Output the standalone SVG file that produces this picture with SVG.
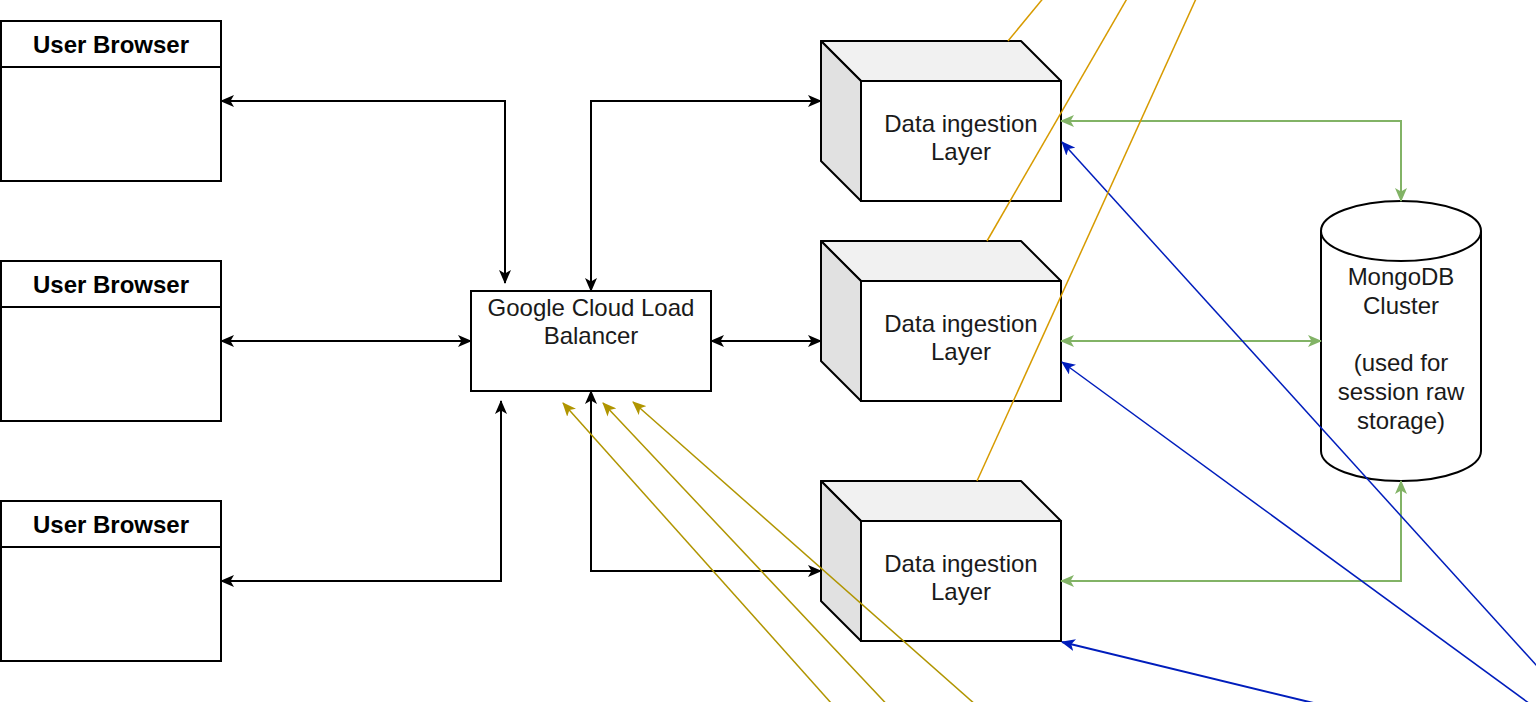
<svg xmlns="http://www.w3.org/2000/svg" width="1536" height="702" viewBox="0 0 1536 702">
<style>
.box{fill:#fff;stroke:#000;stroke-width:2}
.top{fill:#f1f1f1;stroke:#000;stroke-width:2;stroke-linejoin:round}
.side{fill:#e1e1e1;stroke:#000;stroke-width:2;stroke-linejoin:round}
text{font-family:"Liberation Sans",Arial,Helvetica,sans-serif;font-size:24px;fill:#1a1a1a;text-anchor:middle}
.b{font-weight:bold;fill:#000}
.k{fill:none;stroke:#000;stroke-width:2;marker-start:url(#ak);marker-end:url(#ak)}
.g{fill:none;stroke:#82b366;stroke-width:2;marker-start:url(#ag);marker-end:url(#ag)}
.bl{fill:none;stroke:#001DBC;stroke-width:1.5;marker-end:url(#ab)}
.gd{fill:none;stroke:#B09500;stroke-width:1.5;marker-end:url(#ad)}
.or{fill:none;stroke:#d79b00;stroke-width:1.5}
</style>
<defs>
<marker id="ak" viewBox="0 0 14 12" refX="13" refY="6" markerWidth="14" markerHeight="12" markerUnits="userSpaceOnUse" orient="auto-start-reverse"><path d="M0,0 L14,6 L0,12 L3.5,6 z" fill="#000"/></marker>
<marker id="ag" viewBox="0 0 14 12" refX="13" refY="6" markerWidth="14" markerHeight="12" markerUnits="userSpaceOnUse" orient="auto-start-reverse"><path d="M0,0 L14,6 L0,12 L3.5,6 z" fill="#82b366"/></marker>
<marker id="ab" viewBox="0 0 14 12" refX="13" refY="6" markerWidth="14" markerHeight="12" markerUnits="userSpaceOnUse" orient="auto"><path d="M0,0 L14,6 L0,12 L3.5,6 z" fill="#001DBC"/></marker>
<marker id="ad" viewBox="0 0 14 12" refX="13" refY="6" markerWidth="14" markerHeight="12" markerUnits="userSpaceOnUse" orient="auto"><path d="M0,0 L14,6 L0,12 L3.5,6 z" fill="#B09500"/></marker>
</defs>

<g id="browser1">
<rect class="box" x="1" y="21" width="220" height="160"/>
<line x1="1" y1="67" x2="221" y2="67" stroke="#000" stroke-width="2"/>
<text class="b" x="111" y="53">User Browser</text>
</g>
<g id="browser2">
<rect class="box" x="1" y="261" width="220" height="160"/>
<line x1="1" y1="307" x2="221" y2="307" stroke="#000" stroke-width="2"/>
<text class="b" x="111" y="293">User Browser</text>
</g>
<g id="browser3">
<rect class="box" x="1" y="501" width="220" height="160"/>
<line x1="1" y1="547" x2="221" y2="547" stroke="#000" stroke-width="2"/>
<text class="b" x="111" y="533">User Browser</text>
</g>

<g id="loadbalancer">
<rect class="box" x="471" y="291" width="240" height="100"/>
<text x="591" y="316">Google Cloud Load</text>
<text x="591" y="344">Balancer</text>
</g>

<g id="ingest1">
<polygon class="top" points="821,41 1021,41 1061,81 861,81"/>
<polygon class="side" points="821,41 861,81 861,201 821,161"/>
<rect class="box" x="861" y="81" width="200" height="120"/>
<text x="961" y="132">Data ingestion</text>
<text x="961" y="160">Layer</text>
</g>
<g id="ingest2">
<polygon class="top" points="821,241 1021,241 1061,281 861,281"/>
<polygon class="side" points="821,241 861,281 861,401 821,361"/>
<rect class="box" x="861" y="281" width="200" height="120"/>
<text x="961" y="332">Data ingestion</text>
<text x="961" y="360">Layer</text>
</g>
<g id="ingest3">
<polygon class="top" points="821,481 1021,481 1061,521 861,521"/>
<polygon class="side" points="821,481 861,521 861,641 821,601"/>
<rect class="box" x="861" y="521" width="200" height="120"/>
<text x="961" y="572">Data ingestion</text>
<text x="961" y="600">Layer</text>
</g>

<g id="mongodb">
<path d="M1321,231 A80,30 0 0 1 1481,231 L1481,451 A80,30 0 0 1 1321,451 Z" fill="#fff" stroke="#000" stroke-width="2"/>
<path d="M1321,231 A80,30 0 0 0 1481,231" fill="none" stroke="#000" stroke-width="2"/>
<text x="1401" y="285">MongoDB</text>
<text x="1401" y="314">Cluster</text>
<text x="1401" y="371">(used for</text>
<text x="1401" y="400">session raw</text>
<text x="1401" y="429">storage)</text>
</g>

<g id="connectors">
<path class="k" d="M221,101 L505,101 L505,283"/>
<path class="k" d="M221,341 L471,341"/>
<path class="k" d="M221,581 L501,581 L501,401"/>
<path class="k" d="M591,291 L591,101 L821,101"/>
<path class="k" d="M711,341 L821,341"/>
<path class="k" d="M591,391 L591,571 L821,571"/>
<path class="g" d="M1061,121 L1401,121 L1401,201"/>
<path class="g" d="M1061,341 L1321,341"/>
<path class="g" d="M1061,581 L1401,581 L1401,481"/>
<path class="bl" d="M1556,687 L1062,142"/>
<path class="bl" d="M1541,712 L1062,362"/>
<path class="bl" style="stroke-width:2" d="M1330,707 L1062,642"/>
<path class="gd" d="M840,713 L563,403"/>
<path class="gd" d="M895,713 L603,403"/>
<path class="gd" d="M985,713 L633,402"/>
<path class="or" d="M1050,-10 L1008,41"/>
<path class="or" d="M1132,-10 L987,241"/>
<path class="or" d="M1200,-10 L977,481"/>
</g>
</svg>
